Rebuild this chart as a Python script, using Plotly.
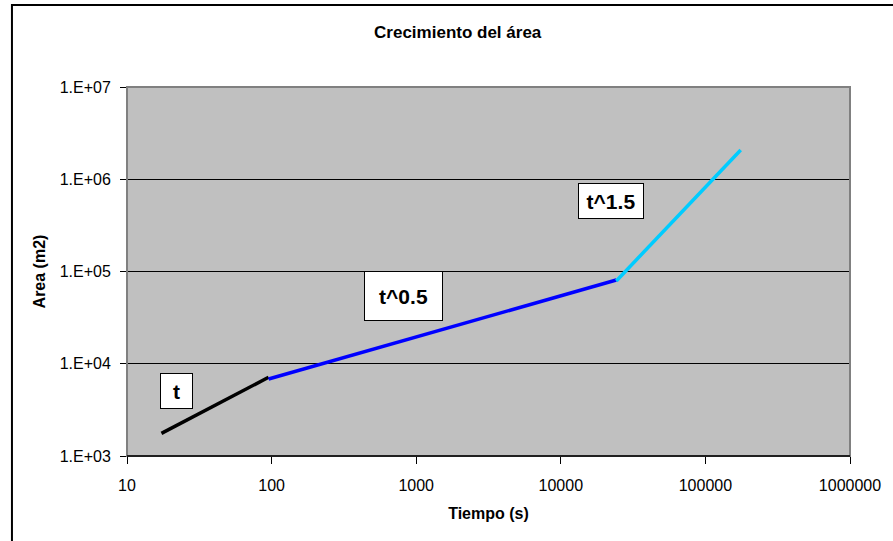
import math
import plotly.graph_objects as go

# Data
t_x = [17.3, 95.3]
t_y = [1760, 7130]
t05_x = [95.3, 24200]
t05_y = [6840, 80900]
t15_x = [24200, 175500]
t15_y = [79000, 2075000]

x_ticks = [10, 100, 1000, 10000, 100000, 1000000]
x_ticktext = ["10", "100", "1000", "10000", "100000", "1000000"]
y_ticks = [1e3, 1e4, 1e5, 1e6, 1e7]
y_ticktext = ["1.E+03", "1.E+04", "1.E+05", "1.E+06", "1.E+07"]

labels = ["t", "t^0.5", "t^1.5"]
label_x = [22.0, 819.0, 22300.0]
label_y = [5070, 54200, 574000]

FONT = "Liberation Sans, Arial, sans-serif"

fig = go.Figure()
fig.add_trace(go.Scatter(x=t_x, y=t_y, mode="lines", line=dict(color="#000000", width=3.5)))
fig.add_trace(go.Scatter(x=t05_x, y=t05_y, mode="lines", line=dict(color="#0000FF", width=3.5)))
fig.add_trace(go.Scatter(x=t15_x, y=t15_y, mode="lines", line=dict(color="#00CCFF", width=3.5)))

box_w = [25, 71, 58]
box_h = [28, 42, 28]
for txt, lx, ly, bw, bh in zip(labels, label_x, label_y, box_w, box_h):
    fig.add_annotation(x=math.log10(lx), y=math.log10(ly), xref="x", yref="y",
                       text="<b>%s</b>" % txt, showarrow=False,
                       font=dict(family=FONT, size=21, color="black"),
                       bgcolor="white", bordercolor="black", borderwidth=1,
                       borderpad=3, width=bw, height=bh, align="center", valign="middle",
                       xanchor="center", yanchor="middle")

W, H = 893, 541
ml, mr, mt, mb = 127, W - 856, 87, H - 456
pw, ph = 856 - 127, 456 - 87

def px2paper_x(px):
    return (px - ml) / pw

def px2paper_y(py):
    return (456 - py) / ph

# outer chart border
fig.add_shape(type="rect", xref="paper", yref="paper",
              x0=px2paper_x(11), x1=px2paper_x(905), y0=px2paper_y(560), y1=px2paper_y(5),
              line=dict(color="black", width=2), fillcolor="rgba(0,0,0,0)", layer="below")
# plot area border (gray) and black bottom axis
fig.add_shape(type="rect", xref="paper", yref="paper", x0=0, x1=1, y0=0, y1=1,
              line=dict(color="#808080", width=2), fillcolor="rgba(0,0,0,0)", layer="above")
fig.add_shape(type="line", xref="paper", yref="paper", x0=0, x1=1, y0=0, y1=0,
              line=dict(color="black", width=1.5), layer="above")

fig.update_layout(
    width=W, height=H,
    margin=dict(l=ml, r=mr, t=mt, b=mb),
    paper_bgcolor="white",
    plot_bgcolor="#C0C0C0",
    showlegend=False,
    font=dict(family=FONT, size=16, color="black"),
    title=dict(text="<b>Crecimiento del área</b>", x=457.7 / W, xanchor="center",
               y=1 - 32 / H, yanchor="middle", font=dict(family=FONT, size=17)),
)
fig.update_xaxes(type="log", range=[1, 6], tickvals=x_ticks, ticktext=x_ticktext,
                 showgrid=False, zeroline=False, showline=False,
                 ticks="outside", ticklen=7, tickcolor="black",
                 ticklabelstandoff=8,
                 tickfont=dict(family=FONT, size=16),
                 title=dict(text="<b>Tiempo (s)</b>", font=dict(family=FONT, size=16), standoff=14))
fig.update_yaxes(type="log", range=[3, 7], tickvals=y_ticks, ticktext=y_ticktext,
                 showgrid=True, gridcolor="black", gridwidth=1, zeroline=False,
                 showline=False,
                 ticks="outside", ticklen=6, tickcolor="black",
                 ticklabelstandoff=6,
                 tickfont=dict(family=FONT, size=16),
                 title=dict(text="<b>Area (m2)</b>", font=dict(family=FONT, size=16), standoff=10))

fig.write_html("out.html", config={"displayModeBar": False},
               post_script="document.body.style.margin='0';")
